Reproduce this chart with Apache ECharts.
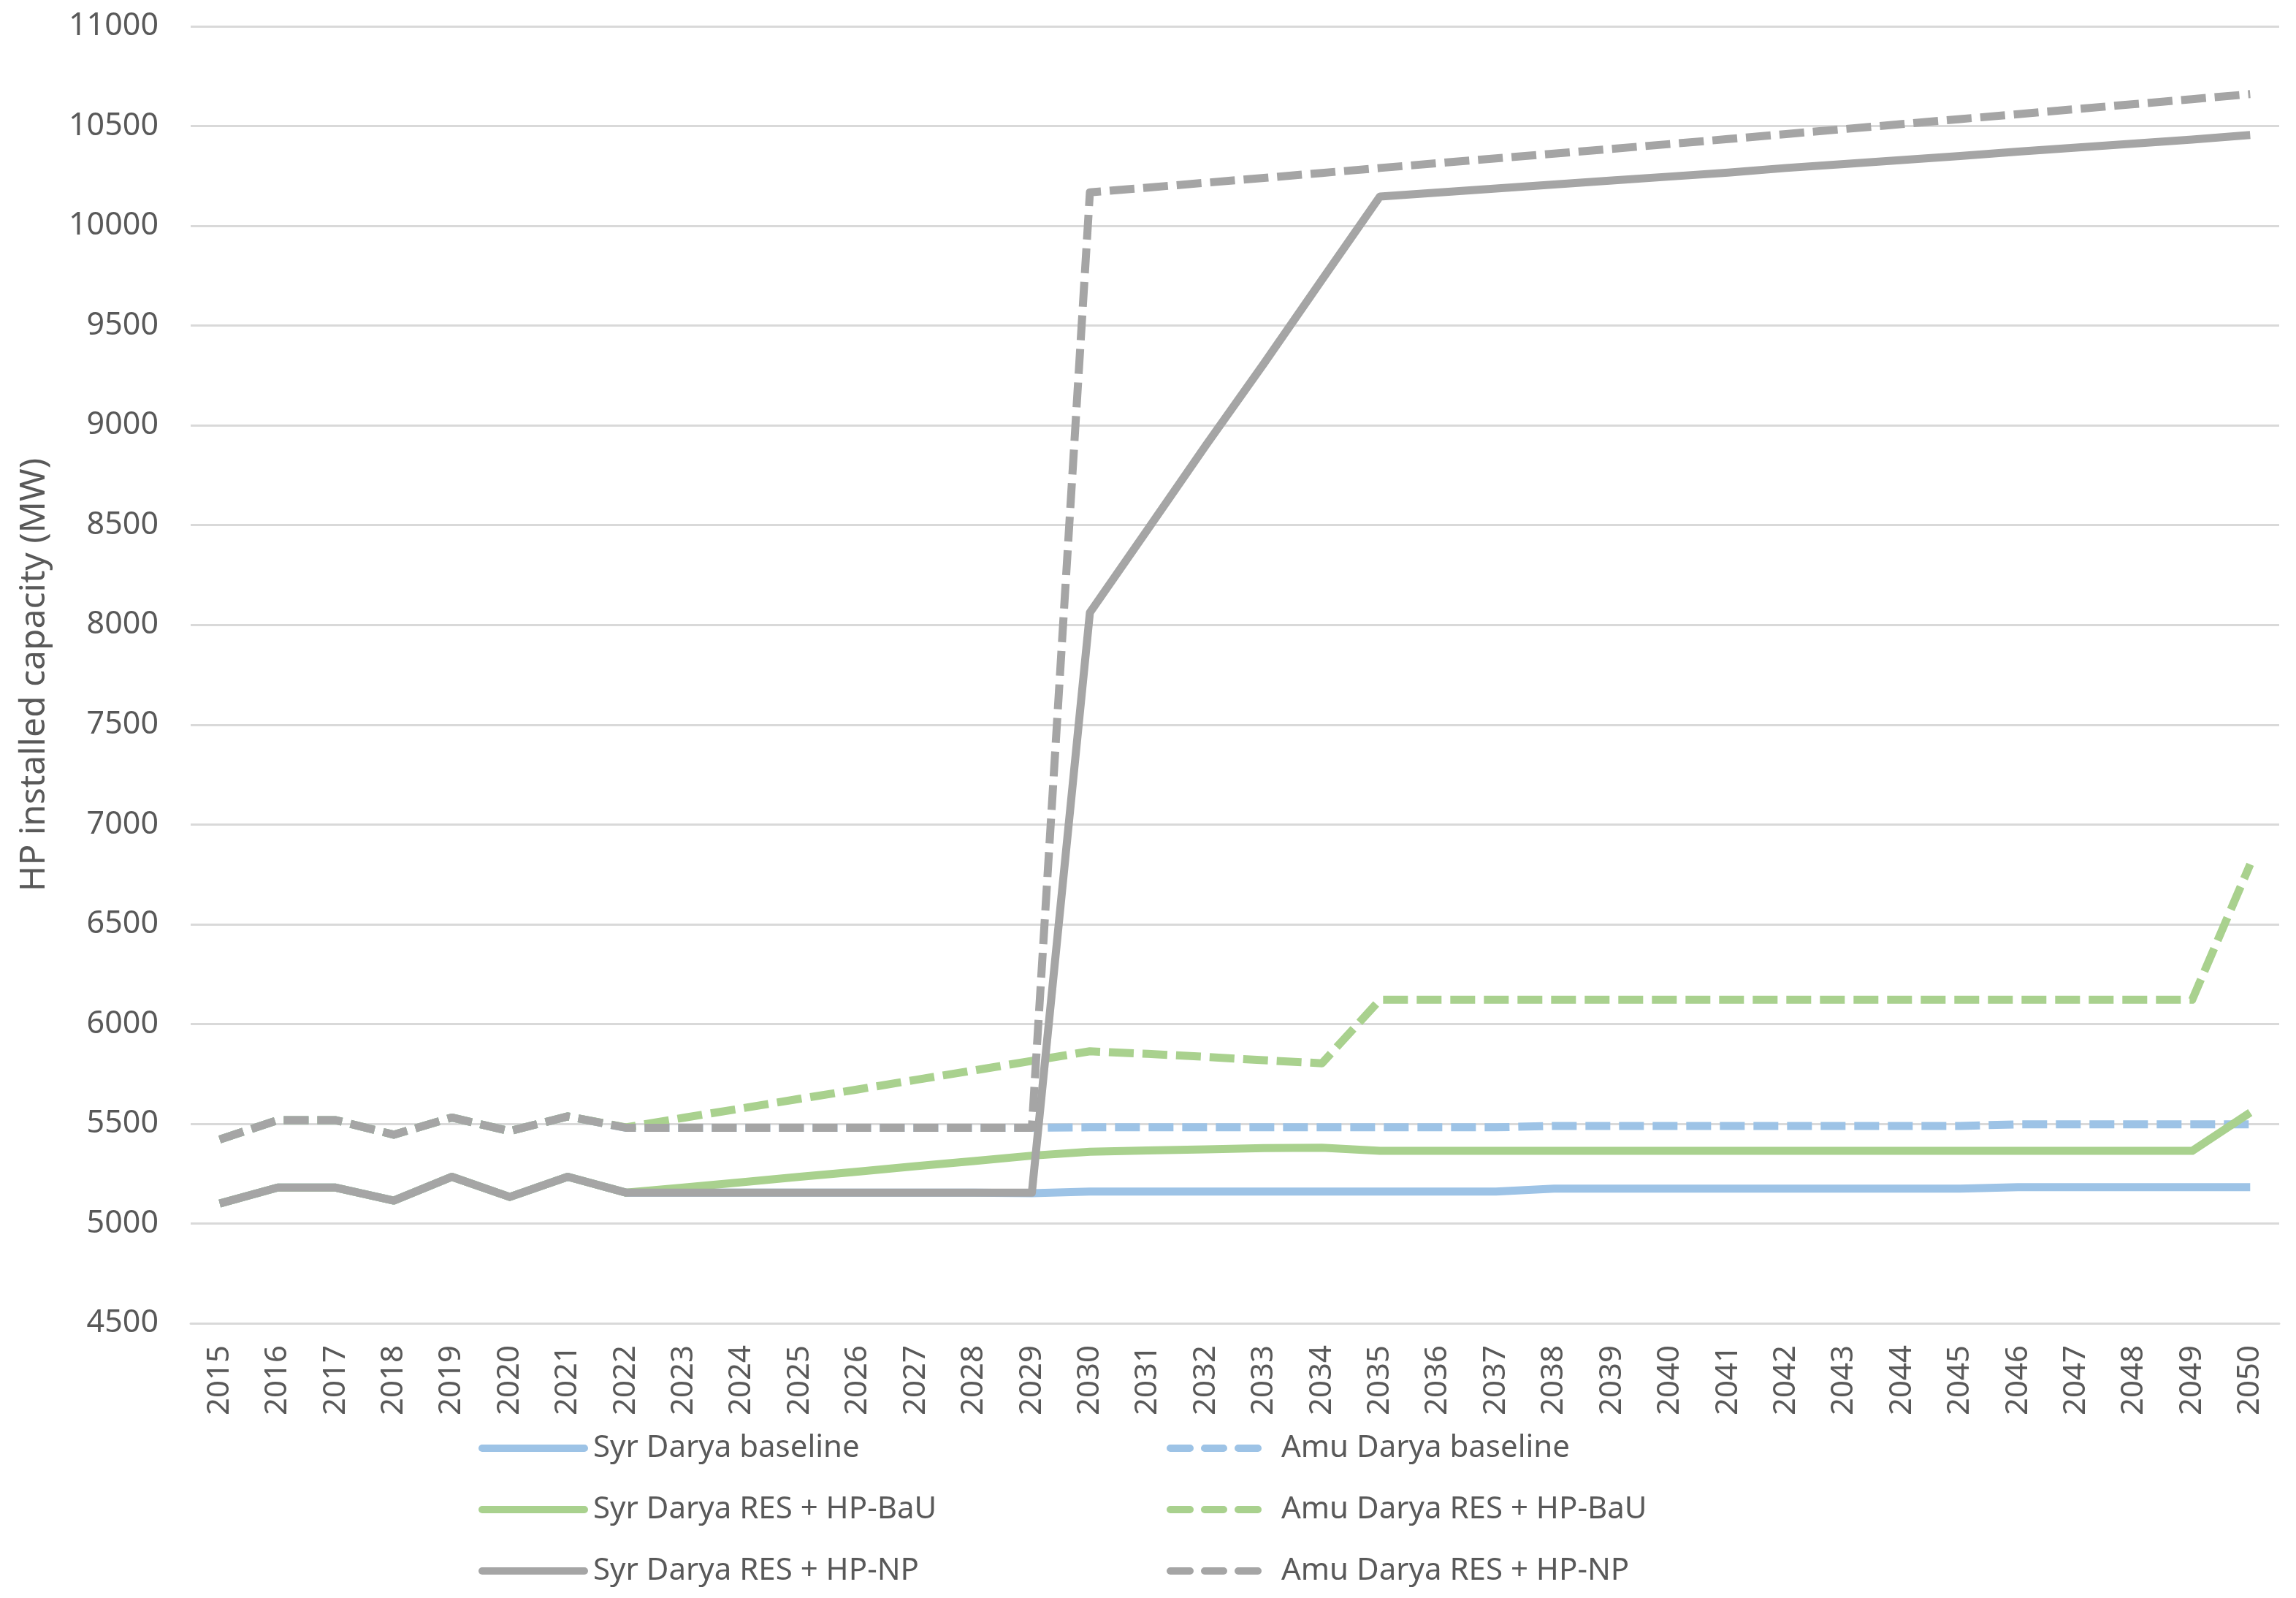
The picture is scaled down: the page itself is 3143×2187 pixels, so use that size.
<!DOCTYPE html>
<html>
<head>
<meta charset="utf-8">
<script src="https://cdn.jsdelivr.net/npm/echarts@6/dist/echarts.min.js"></script>
<style>
html,body{margin:0;padding:0;background:#fff;}
#chart{width:3143px;height:2187px;}
</style>
</head>
<body>
<div id="chart"></div>
<script>
var years = ['2015','2016','2017','2018','2019','2020','2021','2022','2023','2024','2025','2026','2027','2028','2029','2030','2031','2032','2033','2034','2035','2036','2037','2038','2039','2040','2041','2042','2043','2044','2045','2046','2047','2048','2049','2050'];

var syrBaseline = [5100,5180,5180,5115,5234,5133,5234,5155,5155,5155,5155,5155,5155,5155,5152,5160,5160,5160,5160,5160,5160,5160,5160,5175,5175,5175,5175,5175,5175,5175,5175,5182,5182,5182,5182,5182];
var amuBaseline = [5421,5518,5518,5445,5531,5463,5537,5480,5480,5480,5480,5480,5480,5480,5480,5482,5482,5482,5482,5482,5482,5482,5482,5489,5489,5489,5489,5489,5489,5489,5489,5497,5497,5497,5497,5497];
var syrBaU = [5100,5180,5180,5115,5234,5133,5234,5155,5180,5207,5234,5260,5287,5313,5340,5360,5366,5372,5378,5380,5364,5364,5364,5364,5364,5364,5364,5364,5364,5364,5364,5364,5364,5364,5364,5556];
var amuBaU = [5421,5518,5518,5445,5531,5463,5537,5482,5530,5577,5625,5672,5720,5767,5815,5863,5850,5835,5818,5803,6121,6121,6121,6121,6121,6121,6121,6121,6121,6121,6121,6121,6121,6121,6121,6800];
var syrNP = [5100,5180,5180,5115,5234,5133,5234,5155,5155,5155,5155,5155,5155,5155,5155,8062,8480,8900,9310,9730,10147,10167,10187,10207,10227,10247,10267,10290,10310,10330,10350,10372,10392,10412,10432,10455];
var amuNP = [5421,5518,5518,5445,5531,5463,5537,5480,5480,5480,5480,5480,5480,5480,5480,10168,10192,10216,10240,10265,10290,10314,10338,10362,10386,10410,10435,10460,10485,10510,10535,10560,10585,10610,10635,10660];

var yMin = 4500, yMax = 11000, yStep = 500;

var BLUE = '#9DC3E6', GREEN = '#A9D18E', GREY = '#A5A5A5';
var FONT = 'Noto Sans';
var TXT = '#595959';
var LW = 11;
var DASH = [34, 12];
var SOLID_ICON = 'path://M5,0h140a5,5 0 0 1 0,10h-140a5,5 0 0 1 0,-10z';
var DASH_ICON = 'path://M5,0h27a5,5 0 0 1 0,10h-27a5,5 0 0 1 0,-10z M52,0h26a5,5 0 0 1 0,10h-26a5,5 0 0 1 0,-10z M98,0h27a5,5 0 0 1 0,10h-27a5,5 0 0 1 0,-10z';

function mk(name, data, color, dashed) {
  return {
    name: name, type: 'line', data: data, symbol: 'none', smooth: false,
    animation: false,
    lineStyle: { color: color, width: LW, type: dashed ? DASH : 'solid', cap: 'butt', join: 'round' },
    itemStyle: { color: color }
  };
}

var chart = echarts.init(document.getElementById('chart'), null, { renderer: 'canvas' });
var textStyle = { fontFamily: FONT, fontSize: 42, color: TXT, lineHeight: 50 };
chart.setOption({
  animation: false,
  backgroundColor: '#fff',
  grid: { left: 261, right: 23, top: 36, bottom: 376, containLabel: false },
  legend: [
    { orient: 'vertical', left: 650, top: 1952, itemWidth: 150, itemHeight: 11, itemGap: 34,
      icon: SOLID_ICON,
      textStyle: Object.assign({ padding: [0,0,0,2] }, textStyle),
      data: ['Syr Darya baseline','Syr Darya RES + HP-BaU','Syr Darya RES + HP-NP'] },
    { orient: 'vertical', left: 1592, top: 1952, itemWidth: 130, itemHeight: 11, itemGap: 34,
      icon: DASH_ICON,
      textStyle: Object.assign({ padding: [0,0,0,22] }, textStyle),
      data: ['Amu Darya baseline','Amu Darya RES + HP-BaU','Amu Darya RES + HP-NP'] }
  ],
  xAxis: {
    type: 'category', data: years, boundaryGap: true,
    axisLine: { show: true, lineStyle: { color: '#D9D9D9', width: 3 } },
    axisTick: { show: false },
    axisLabel: { rotate: 90, margin: 30, fontFamily: FONT, fontSize: 42, color: TXT, interval: 0 },
    splitLine: { show: false }
  },
  yAxis: {
    type: 'value', min: yMin, max: yMax, interval: yStep,
    name: 'HP installed capacity (MW)', nameLocation: 'middle', nameGap: 190,
    nameTextStyle: { fontFamily: FONT, fontSize: 48, color: TXT },
    axisLine: { show: false }, axisTick: { show: false },
    axisLabel: { margin: 44, fontFamily: FONT, fontSize: 43, color: TXT, formatter: function (v) { return String(v); } },
    splitLine: { lineStyle: { color: '#D9D9D9', width: 3 } }
  },
  series: [
    mk('Syr Darya baseline', syrBaseline, BLUE, false),
    mk('Amu Darya baseline', amuBaseline, BLUE, true),
    mk('Syr Darya RES + HP-BaU', syrBaU, GREEN, false),
    mk('Amu Darya RES + HP-BaU', amuBaU, GREEN, true),
    mk('Syr Darya RES + HP-NP', syrNP, GREY, false),
    mk('Amu Darya RES + HP-NP', amuNP, GREY, true)
  ]
});
</script>
</body>
</html>
